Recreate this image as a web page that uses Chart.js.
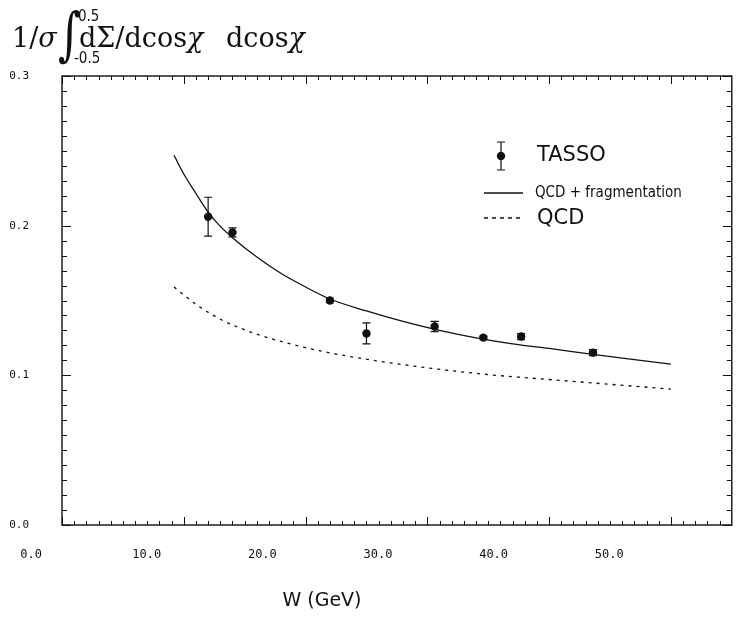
<!DOCTYPE html>
<html>
<head>
<meta charset="utf-8">
<script src="https://cdn.jsdelivr.net/npm/chart.js@4"></script>
<style>
  body { margin: 0; background: #fff; }
  #wrap { position: relative; width: 736px; height: 623px; }
  #c { position: absolute; left: 0; top: 0; }
  .t { position: absolute; white-space: nowrap; color: #111; line-height: 1; }
  .serif { font-family: "DejaVu Serif", serif; font-size: 27px; }
  .lim { font-family: "DejaVu Sans Condensed", "DejaVu Sans", sans-serif; font-size: 15px; }
</style>
</head>
<body>
<div id="wrap">
  <canvas id="c" width="736" height="623"></canvas>
  <div class="t serif" style="left:12px; top:24px;">1/<i>σ</i></div>
  <div class="t serif" style="left:58px; top:5px; font-size:44px; transform:scaleY(1.32); transform-origin:top left;">∫</div>
  <div class="t lim" style="left:78px; top:9px;">0.5</div>
  <div class="t lim" style="left:74px; top:51px;">-0.5</div>
  <div class="t serif" style="left:79px; top:24px;">dΣ/dcos<i>χ</i></div>
  <div class="t serif" style="left:226px; top:24px;">dcos<i>χ</i></div>
  <div class="t" id="xt" style="left:322px; top:590px; transform:translateX(-50%); font-family:'DejaVu Sans', sans-serif; font-size:19px;"></div>
</div>
<script>
// TASSO data points
const wTasso = [12, 14, 22, 25, 30.6, 34.6, 37.7, 43.6];
const fTasso = [0.206, 0.1955, 0.150, 0.128, 0.1326, 0.1252, 0.1259, 0.1152];
const eTasso = [0.013, 0.003, 0.0015, 0.007, 0.0034, 0.001, 0.002, 0.002];

// QCD + fragmentation (solid)
const wFrag = [9.2, 10, 11, 12, 13, 14, 16, 18, 20, 22, 25, 28, 31, 34, 37, 40, 43.6, 47, 50];
const fFrag = [0.247, 0.2345, 0.2215, 0.209, 0.1995, 0.192, 0.179, 0.168, 0.159, 0.151, 0.143, 0.136, 0.130, 0.125, 0.121, 0.118, 0.114, 0.1105, 0.1075];

// QCD only (dashed)
const wQcd = [9.2, 11, 13, 16, 19, 22, 26, 30, 35, 40, 45, 50];
const fQcd = [0.159, 0.1475, 0.1375, 0.1275, 0.1205, 0.115, 0.1095, 0.105, 0.1005, 0.0972, 0.094, 0.0908];

// tick labels printed under the x axis (set slightly off the tick marks in the original)
const xLabelVals = [0, 10, 20, 30, 40, 50];
const yLabelVals = [0, 0.1, 0.2, 0.3];

const legendLabels = ['TASSO', 'QCD + fragmentation', 'QCD'];
const xTitle = 'W (GeV)';

const ink = '#111';

document.getElementById('xt').textContent = xTitle;

const pts = (xs, ys) => xs.map((x, i) => ({ x: x, y: ys[i] }));

const frame = {
  id: 'frame',
  afterDraw(chart) {
    const ctx = chart.ctx;
    const a = chart.chartArea;
    const xs = chart.scales.x, ys = chart.scales.y;
    ctx.save();
    ctx.strokeStyle = ink;
    ctx.lineWidth = 1.4;
    ctx.strokeRect(a.left, a.top, a.right - a.left, a.bottom - a.top);
    ctx.lineWidth = 1;
    ctx.beginPath();
    for (let i = 0; i <= 54; i++) {
      const px = Math.round(xs.getPixelForValue(i)) + 0.5;
      const len = i % 10 === 0 ? 8 : 4;
      ctx.moveTo(px, a.bottom); ctx.lineTo(px, a.bottom - len);
      ctx.moveTo(px, a.top); ctx.lineTo(px, a.top + len);
    }
    for (let i = 0; i <= 30; i++) {
      const py = Math.round(ys.getPixelForValue(i / 100)) + 0.5;
      const len = i % 10 === 0 ? 9 : 5;
      ctx.moveTo(a.left, py); ctx.lineTo(a.left + len, py);
      ctx.moveTo(a.right, py); ctx.lineTo(a.right - len, py);
    }
    ctx.stroke();

    // legend
    ctx.fillStyle = ink;
    ctx.lineWidth = 1.2;
    ctx.beginPath();
    ctx.moveTo(501, 142); ctx.lineTo(501, 170);
    ctx.moveTo(497, 142); ctx.lineTo(505, 142);
    ctx.moveTo(497, 170); ctx.lineTo(505, 170);
    ctx.stroke();
    ctx.beginPath(); ctx.arc(501, 156, 4.2, 0, Math.PI * 2); ctx.fill();
    ctx.lineWidth = 1.3;
    ctx.beginPath(); ctx.moveTo(484, 193); ctx.lineTo(523, 193); ctx.stroke();
    ctx.setLineDash([4, 4]);
    ctx.beginPath(); ctx.moveTo(484, 218); ctx.lineTo(523, 218); ctx.stroke();
    ctx.setLineDash([]);
    ctx.textBaseline = 'middle';
    ctx.textAlign = 'left';
    ctx.font = '21px "DejaVu Sans", sans-serif';
    ctx.fillText(legendLabels[0], 537, 156);
    ctx.font = '15px "Liberation Sans Narrow", "DejaVu Sans Condensed", sans-serif';
    ctx.fillText(legendLabels[1], 535, 193);
    ctx.font = '21px "DejaVu Sans", sans-serif';
    ctx.fillText(legendLabels[2], 537, 219);
    ctx.restore();
  }
};

const errBars = {
  id: 'errBars',
  afterDatasetsDraw(chart) {
    const ctx = chart.ctx;
    const xs = chart.scales.x, ys = chart.scales.y;
    ctx.save();
    ctx.strokeStyle = ink;
    ctx.lineWidth = 1.2;
    ctx.beginPath();
    wTasso.forEach((w, i) => {
      const px = xs.getPixelForValue(w);
      const y1 = ys.getPixelForValue(fTasso[i] + eTasso[i]);
      const y2 = ys.getPixelForValue(fTasso[i] - eTasso[i]);
      ctx.moveTo(px, y1); ctx.lineTo(px, y2);
      ctx.moveTo(px - 4, y1); ctx.lineTo(px + 4, y1);
      ctx.moveTo(px - 4, y2); ctx.lineTo(px + 4, y2);
    });
    ctx.stroke();
    ctx.restore();
  }
};

new Chart(document.getElementById('c'), {
  type: 'scatter',
  data: {
    datasets: [
      {
        label: legendLabels[0],
        data: pts(wTasso, fTasso),
        pointRadius: 4.2,
        pointBackgroundColor: ink,
        pointBorderWidth: 0
      },
      {
        label: legendLabels[1],
        data: pts(wFrag, fFrag),
        showLine: true,
        borderColor: ink,
        borderWidth: 1.3,
        pointRadius: 0,
        cubicInterpolationMode: 'monotone'
      },
      {
        label: legendLabels[2],
        data: pts(wQcd, fQcd),
        showLine: true,
        borderColor: ink,
        borderWidth: 1.3,
        borderDash: [3, 5],
        pointRadius: 0,
        cubicInterpolationMode: 'monotone'
      }
    ]
  },
  options: {
    responsive: false,
    animation: false,
    devicePixelRatio: 1,
    layout: { padding: { top: 76, right: 0, left: 0, bottom: 0 } },
    plugins: { legend: { display: false }, tooltip: { enabled: false } },
    scales: {
      x: {
        type: 'linear',
        min: 0,
        max: 55,
        display: false
      },
      xl: {
        type: 'linear',
        position: 'bottom',
        min: 2.67,
        max: 60.6,
        grid: { display: false },
        border: { display: false },
        afterFit(s) { s.height = 98; s.paddingRight = 0; s.paddingLeft = 0; },
        afterBuildTicks(s) { s.ticks = xLabelVals.map(v => ({ value: v })); },
        ticks: {
          autoSkip: false,
          padding: 15,
          maxRotation: 0,
          color: ink,
          font: { family: '"DejaVu Sans Mono", monospace', size: 12 },
          callback: v => Number(v).toFixed(1)
        }
      },
      y: {
        min: 0,
        max: 0.3,
        grid: { display: false },
        border: { display: false },
        afterFit(s) { s.width = 62; },
        afterBuildTicks(s) { s.ticks = yLabelVals.map(v => ({ value: v })); },
        ticks: {
          padding: 25,
          color: ink,
          font: { family: '"DejaVu Sans Mono", monospace', size: 11 },
          callback: v => Number(v).toFixed(1)
        }
      }
    }
  },
  plugins: [errBars, frame]
});
</script>
</body>
</html>
